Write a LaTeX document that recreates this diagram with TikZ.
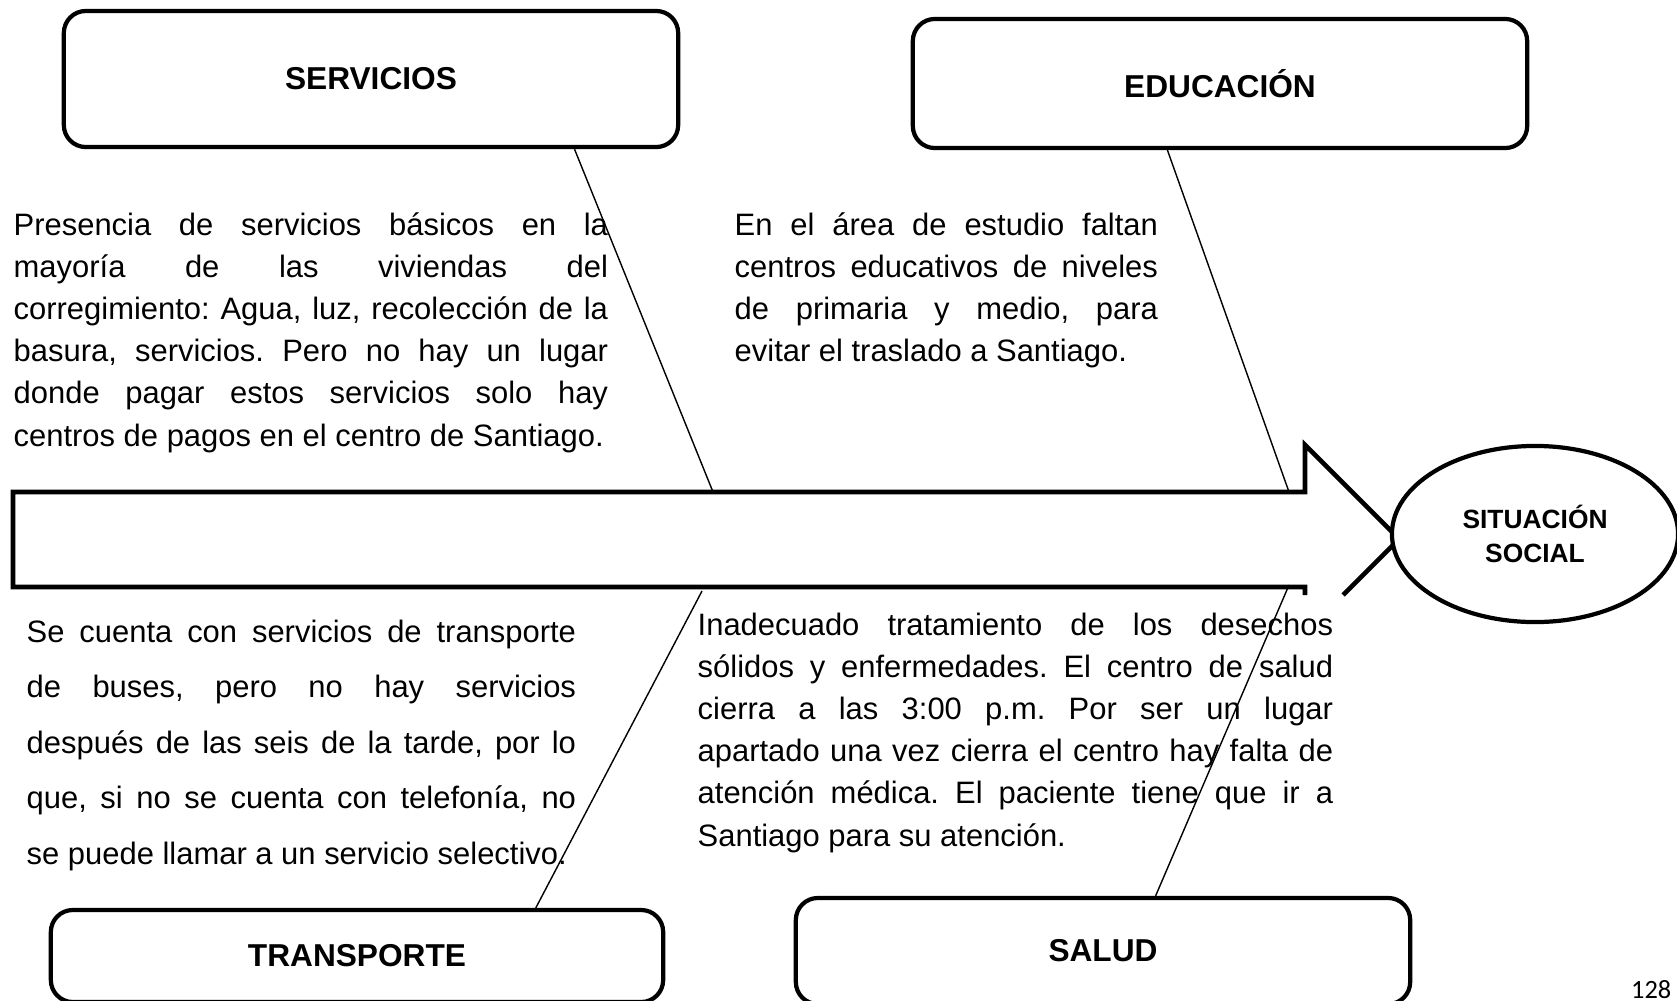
\documentclass[tikz,border=0pt]{standalone}
\usepackage{fontspec}
\setmainfont{Liberation Sans}
\newfontfamily\pagefont{Carlito}
\usetikzlibrary{shapes.geometric, calc}
\frenchspacing

\begin{document}
\begin{tikzpicture}[
    x=0.01cm, y=-0.01cm,
    topic/.style={rectangle, draw, rounded corners=0.22cm, line width=1.2pt, minimum width=6.14cm, font=\fontsize{9}{11}\selectfont\bfseries},
    note/.style={anchor=base west, inner sep=0pt, align=justify, font=\fontsize{8.8}{12}\selectfont},
    link/.style={line width=0.4pt}
]

\useasboundingbox (0,0) rectangle (1677,1000);

% Topic boxes
\node[topic, minimum height=1.36cm] (serv) at (371,79) {SERVICIOS};
\node[topic, minimum height=1.29cm] (edu) at (1220,83.5) {EDUCACIÓN};
\node[topic, minimum width=6.12cm, minimum height=0.92cm] (trans) at (357,956) {TRANSPORTE};
\node[topic, minimum height=1.06cm] (salud) at (1103,951) {SALUD};

% Main arrow (cut at the bottom)
\draw[line width=1.3pt, line join=miter] (1305,595) -- (1305,587) -- (13,587) -- (13,492) -- (1305,492) -- (1305,445) -- (1399,539) -- (1343,595);
\coordinate (servEnd) at (713,492);
\coordinate (eduEnd) at (1289,492);
\coordinate (transEnd) at (702,591);
\coordinate (saludEnd) at (1289,585);

% Effect
\node[ellipse, draw, fill=white, line width=1.2pt, minimum width=2.86cm, minimum height=1.76cm, inner sep=0pt, align=center, font=\fontsize{7.5}{9.7}\selectfont\bfseries] (sit) at (1535,534) {SITUACIÓN\\SOCIAL};

% Descriptions
\node[note, text width=5.94cm] (servtxt) at (13,235) {Presencia de servicios básicos en la\linebreak mayoría de las viviendas del\linebreak corregimiento: Agua, luz, recolección de la\linebreak basura, servicios. Pero no hay un lugar\linebreak donde pagar estos servicios solo hay\linebreak centros de pagos en el centro de Santiago.};
\node[note, text width=4.23cm] (edutxt) at (734,235) {En el área de estudio faltan\linebreak centros educativos de niveles\linebreak de primaria y medio, para\linebreak evitar el traslado a Santiago.};
\node[note, text width=5.49cm, font=\fontsize{8.8}{15.8}\selectfont] (transtxt) at (26,642) {Se cuenta con servicios de transporte\linebreak de buses, pero no hay servicios\linebreak después de las seis de la tarde, por lo\linebreak que, si no se cuenta con telefonía, no\linebreak se puede llamar a un servicio selectivo.};
\node[note, text width=6.35cm] (saludtxt) at (697,635) {Inadecuado tratamiento de los desechos\linebreak sólidos y enfermedades. El centro de salud\linebreak cierra a las 3:00 p.m. Por ser un lugar\linebreak apartado una vez cierra el centro hay falta de\linebreak atención médica. El paciente tiene que ir a\linebreak Santiago para su atención.};

% Connectors
\draw[link] ($(serv.south west)!0.829!(serv.south east)$) -- (servEnd);
\draw[link] ($(edu.south west)!0.415!(edu.south east)$) -- (eduEnd);
\draw[link] ($(trans.north west)!0.79!(trans.north east)$) -- (transEnd);
\draw[link] ($(salud.north west)!0.585!(salud.north east)$) -- (saludEnd);

% Page number
\node[anchor=base east, inner sep=0pt, font=\pagefont\fontsize{7.5}{9}\selectfont] (pnum) at (1672,998) {128};

\end{tikzpicture}
\end{document}
